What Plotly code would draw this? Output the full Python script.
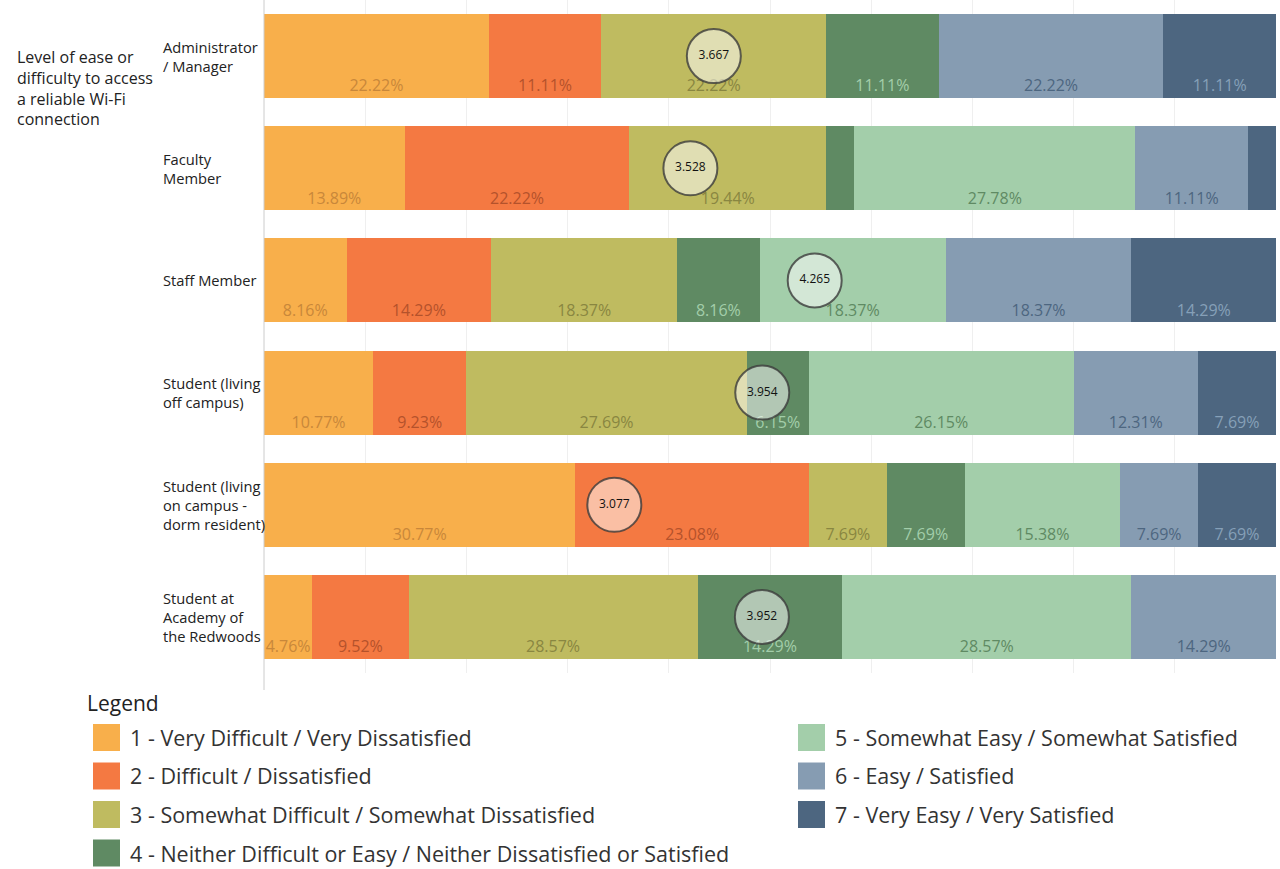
import plotly.graph_objects as go

# Respondent groups (top to bottom)
groups = [
    "Administrator<br>/ Manager",
    "Faculty<br>Member",
    "Staff Member",
    "Student (living<br>off campus)",
    "Student (living<br>on campus -<br>dorm resident)",
    "Student at<br>Academy of<br>the Redwoods",
]

# Response scale
levels = [
    "1 - Very Difficult / Very Dissatisfied",
    "2 - Difficult / Dissatisfied",
    "3 - Somewhat Difficult / Somewhat Dissatisfied",
    "4 - Neither Difficult or Easy / Neither Dissatisfied or Satisfied",
    "5 - Somewhat Easy / Somewhat Satisfied",
    "6 - Easy / Satisfied",
    "7 - Very Easy / Very Satisfied",
]

# Percent of respondents per level, one list per level (order follows groups)
pct_1 = [22.22, 13.89, 8.16, 10.77, 30.77, 4.76]
pct_2 = [11.11, 22.22, 14.29, 9.23, 23.08, 9.52]
pct_3 = [22.22, 19.44, 18.37, 27.69, 7.69, 28.57]
pct_4 = [11.11, 2.78, 8.16, 6.15, 7.69, 14.29]
pct_5 = [0.00, 27.78, 18.37, 26.15, 15.38, 28.57]
pct_6 = [22.22, 11.11, 18.37, 12.31, 7.69, 14.29]
pct_7 = [11.11, 2.78, 14.29, 7.69, 7.69, 0.00]
series = [pct_1, pct_2, pct_3, pct_4, pct_5, pct_6, pct_7]

# Average rating per group (1-7 scale)
averages = [3.667, 3.528, 4.265, 3.954, 3.077, 3.952]

title_text = "Level of ease or<br>difficulty to access<br>a reliable Wi-Fi<br>connection"

fill_colors = ["#f8af4b", "#f47942", "#bfbb60", "#5f8a63", "#a3ceaa", "#869cb2", "#4d6680"]
label_colors = ["#c8873a", "#b4522b", "#898641", "#a3ceaa", "#5f8a63", "#4d6680", "#86a0b8"]

FONT = "Open Sans"
W, H = 1280, 869
L, R, T = 264, 4, 0
PLOT_BOTTOM = 673
B = H - PLOT_BOTTOM
PW = W - L - R
PH = PLOT_BOTTOM - T


def px(x):
    return (x - L) / PW


def py(y):
    return (PLOT_BOTTOM - y) / PH


rows = list(range(len(groups)))
fig = go.Figure()

# Stacked bars
for i, vals in enumerate(series):
    fig.add_trace(go.Bar(
        y=rows, x=vals, orientation="h", width=0.75,
        marker=dict(color=fill_colors[i], line=dict(width=0)),
        name=levels[i], showlegend=False, hoverinfo="skip",
    ))

# Percentage labels near the bottom edge of each segment
starts = [0.0] * len(groups)
for i, vals in enumerate(series):
    xs, ys, ts = [], [], []
    for r, v in enumerate(vals):
        if v > 3:
            xs.append(starts[r] + v / 2)
            ys.append(r + 0.28)
            ts.append(f"{v:.2f}%")
        starts[r] += v
    fig.add_trace(go.Scatter(
        x=xs, y=ys, text=ts, mode="text",
        textfont=dict(family=FONT, size=16, color=label_colors[i]),
        showlegend=False, hoverinfo="skip",
    ))

# Average markers positioned on the 1-7 scale mapped to 0-100
fig.add_trace(go.Scatter(
    x=[(a - 1) / 6 * 100 for a in averages], y=rows,
    mode="markers+text", text=[f"{a:.3f}" for a in averages],
    textposition="middle center",
    textfont=dict(family=FONT, size=12, color="#111111"),
    marker=dict(size=54, color="rgba(255,255,255,0.52)",
                line=dict(color="rgba(60,60,60,0.8)", width=2)),
    showlegend=False, hoverinfo="skip",
))

annotations = []
# Group labels
for r, g in enumerate(groups):
    annotations.append(dict(
        x=px(161), xref="paper", y=r, yref="y", text=g, showarrow=False,
        xanchor="left", yanchor="middle", align="left",
        font=dict(family=FONT, size=14.7, color="#222222"),
    ))
# Measure label
annotations.append(dict(
    x=px(15), xref="paper", y=py(44), yref="paper", text=title_text,
    showarrow=False, xanchor="left", yanchor="top", align="left",
    font=dict(family=FONT, size=16, color="#222222"),
))

# Legend block
shapes = []
annotations.append(dict(
    x=px(85), xref="paper", y=py(703), yref="paper", text="Legend",
    showarrow=False, xanchor="left", yanchor="middle",
    font=dict(family=FONT, size=21, color="#222222"),
))
col_x = [(93, 128), (798, 833)]
for i, lvl in enumerate(levels):
    col = 0 if i < 4 else 1
    row = i if i < 4 else i - 4
    top = 724 + row * 38.5
    sx, tx = col_x[col]
    shapes.append(dict(
        type="rect", xref="paper", yref="paper",
        x0=px(sx), x1=px(sx + 27), y0=py(top + 27), y1=py(top),
        fillcolor=fill_colors[i], line=dict(width=0),
    ))
    annotations.append(dict(
        x=px(tx), xref="paper", y=py(top + 13.5), yref="paper", text=lvl,
        showarrow=False, xanchor="left", yanchor="middle",
        font=dict(family=FONT, size=21.5, color="#333333"),
    ))

# Left axis line
shapes.append(dict(type="line", xref="paper", yref="paper",
                   x0=0, x1=0, y0=py(690), y1=1,
                   line=dict(color="#cccccc", width=1)))

fig.update_layout(
    barmode="stack",
    width=W, height=H,
    margin=dict(l=L, r=R, t=T, b=B),
    plot_bgcolor="white", paper_bgcolor="white",
    bargap=0.25,
    xaxis=dict(range=[0, 100], dtick=10, showgrid=True, gridcolor="#efefef",
               gridwidth=1, zeroline=False, showticklabels=False, ticks="",
               fixedrange=True),
    yaxis=dict(range=[len(groups) - 0.5, -0.5], showgrid=False, zeroline=False,
               showticklabels=False, ticks="", fixedrange=True),
    annotations=annotations,
    shapes=shapes,
    font=dict(family=FONT),
)

fig.write_html("out.html")
